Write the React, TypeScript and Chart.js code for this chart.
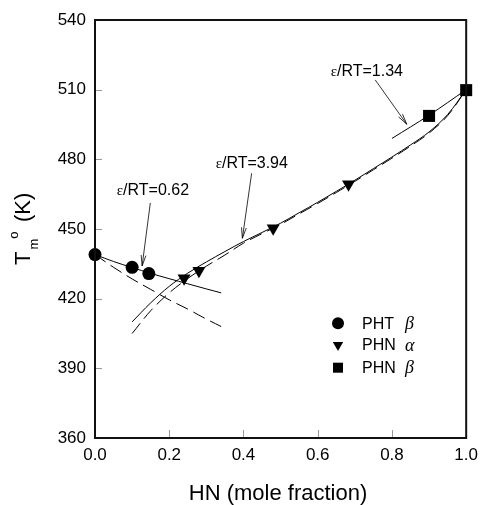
import React, { useEffect, useRef } from "react";
import { Chart, registerables } from "chart.js";
Chart.register(...registerables);

// ---- data ----
const phtBetaX = [0, 0.1, 0.145];
const phtBetaY = [439, 433.5, 430.8];
const phnAlphaX = [0.24, 0.28, 0.48, 0.683];
const phnAlphaY = [428.8, 432, 450.3, 469.3];
const phnBetaX = [0.9, 1.0];
const phnBetaY = [498.7, 509.8];

const fit062X = [0, 0.05, 0.1, 0.15, 0.2, 0.25, 0.3, 0.34];
const fit062SolidY = [439, 436, 433.4, 430.9, 428.6, 426.4, 424.2, 422.5];
const fit062DashY = [439, 433.5, 428.5, 424, 419.5, 415.5, 411.2, 408];

const fit394X = [0.1, 0.15, 0.2, 0.25, 0.3, 0.35, 0.4, 0.45, 0.5, 0.55, 0.6, 0.65, 0.7, 0.75, 0.8, 0.85, 0.9, 0.95, 1.0];
const fit394SolidY = [410, 418.2, 425.3, 431, 435.8, 440.3, 444.6, 448.5, 452.5, 457, 461.5, 466.2, 471, 476, 481, 486.2, 491.8, 499.3, 510];
const fit394DashY = [405, 414.8, 422.5, 428.7, 434, 438.8, 443.9, 448, 452, 456.5, 461, 465.7, 470.5, 475.5, 480.5, 485.7, 491.3, 498.8, 510];

const fit134X = [0.8, 0.9, 1.0];
const fit134Y = [489, 499, 510];

const xTickValues = [0, 0.2, 0.4, 0.6, 0.8, 1.0];
const xTickLabels = ["0.0", "0.2", "0.4", "0.6", "0.8", "1.0"];
const yTickValues = [360, 390, 420, 450, 480, 510, 540];
const yTickLabels = ["360", "390", "420", "450", "480", "510", "540"];

const legendNames = ["PHT", "PHN", "PHN"];
const legendGreek = ["β", "α", "β"];
const legendStyles = ["circle", "triangleDown", "rect"];

// annotations: label, text left x, text baseline y, arrow from (x,y) to tip (x,y)
const annoLabels = ["0.62", "3.94", "1.34"];
const annoTextX = [0.0587, 0.325, 0.635];
const annoTextY = [464.6, 476.3, 515.9];
const annoFromX = [0.149, 0.422, 0.755];
const annoFromY = [461.2, 474, 514.2];
const annoTipX = [0.127, 0.397, 0.84];
const annoTipY = [434.1, 446, 495.1];

const xTitle = "HN (mole fraction)";

const SANS = "'Liberation Sans', Arial, sans-serif";
const SERIF = "'Liberation Serif', 'Times New Roman', serif";

const pts = (xs: number[], ys: number[]) => xs.map((x, i) => ({ x, y: ys[i] }));

function drawMarker(ctx: CanvasRenderingContext2D, style: string, x: number, y: number, s: number) {
  ctx.beginPath();
  if (style === "circle") {
    ctx.arc(x, y, s, 0, Math.PI * 2);
  } else if (style === "triangleDown") {
    const h = s * 1.5;
    const w = s * Math.sqrt(3);
    ctx.moveTo(x - w / 2, y - h / 3);
    ctx.lineTo(x + w / 2, y - h / 3);
    ctx.lineTo(x, y + (2 * h) / 3);
    ctx.closePath();
  } else {
    ctx.rect(x - s, y - s, 2 * s, 2 * s);
  }
  ctx.fillStyle = "#000";
  ctx.fill();
}

const overlay = {
  id: "overlay",
  afterDraw(chart: any) {
    const ctx: CanvasRenderingContext2D = chart.ctx;
    const { left, right, top, bottom } = chart.chartArea;
    const xs = chart.scales.x;
    const ys = chart.scales.y;
    ctx.save();

    // inward tick marks
    ctx.strokeStyle = "#9a9a9a";
    ctx.lineWidth = 1;
    xTickValues.forEach((v) => {
      const px = Math.round(xs.getPixelForValue(v)) + 0.5;
      ctx.beginPath();
      ctx.moveTo(px, bottom);
      ctx.lineTo(px, bottom - 8);
      ctx.stroke();
    });
    yTickValues.forEach((v) => {
      const py = Math.round(ys.getPixelForValue(v)) + 0.5;
      ctx.beginPath();
      ctx.moveTo(left, py);
      ctx.lineTo(left + 7, py);
      ctx.stroke();
    });

    // frame
    ctx.strokeStyle = "#111";
    ctx.lineWidth = 2;
    ctx.strokeRect(left, top, right - left, bottom - top);

    // annotations
    for (let i = 0; i < annoLabels.length; i++) {
      const tx = xs.getPixelForValue(annoTextX[i]);
      const ty = ys.getPixelForValue(annoTextY[i]);
      ctx.fillStyle = "#000";
      ctx.textAlign = "left";
      ctx.textBaseline = "alphabetic";
      ctx.font = `15px ${SERIF}`;
      ctx.fillText("ε", tx, ty);
      const ew = ctx.measureText("ε").width;
      ctx.font = `16px ${SANS}`;
      ctx.fillText("/RT=" + annoLabels[i], tx + ew, ty);

      const fx = xs.getPixelForValue(annoFromX[i]);
      const fy = ys.getPixelForValue(annoFromY[i]);
      const px = xs.getPixelForValue(annoTipX[i]);
      const py = ys.getPixelForValue(annoTipY[i]);
      ctx.strokeStyle = "#000";
      ctx.lineWidth = 0.8;
      ctx.beginPath();
      ctx.moveTo(fx, fy);
      ctx.lineTo(px, py);
      ctx.stroke();
      const ang = Math.atan2(py - fy, px - fx);
      const L = 11;
      const a = 0.22;
      ctx.beginPath();
      ctx.moveTo(px - L * Math.cos(ang - a), py - L * Math.sin(ang - a));
      ctx.lineTo(px, py);
      ctx.lineTo(px - L * Math.cos(ang + a), py - L * Math.sin(ang + a));
      ctx.stroke();
    }

    // legend
    const lx = 338;
    const rows = [323.3, 345, 367.7];
    const sizes = [6, 6, 5];
    for (let i = 0; i < legendNames.length; i++) {
      drawMarker(ctx, legendStyles[i], lx, rows[i], sizes[i]);
      ctx.fillStyle = "#000";
      ctx.textAlign = "left";
      ctx.textBaseline = "middle";
      ctx.font = `16px ${SANS}`;
      ctx.fillText(legendNames[i], 362, rows[i] + 1);
      ctx.font = `italic 18px ${SERIF}`;
      ctx.fillText(legendGreek[i], 405, rows[i] + 1);
    }

    // x title
    ctx.font = `22px ${SANS}`;
    ctx.textAlign = "center";
    ctx.textBaseline = "alphabetic";
    ctx.fillText(xTitle, 278, 500);

    // y title: T_m^o (K)
    ctx.save();
    ctx.translate(30, 265);
    ctx.rotate(-Math.PI / 2);
    ctx.textAlign = "left";
    ctx.textBaseline = "alphabetic";
    ctx.font = `22px ${SANS}`;
    ctx.fillText("T", 0, 0);
    const tw = ctx.measureText("T").width;
    ctx.font = `13px ${SANS}`;
    ctx.fillText("m", tw + 2, 8);
    const mw = ctx.measureText("m").width;
    ctx.fillText("o", tw + 2 + mw, -12);
    ctx.font = `22px ${SANS}`;
    ctx.fillText("(K)", 43, 0);
    ctx.restore();

    ctx.restore();
  },
};

export default function App() {
  const ref = useRef<HTMLCanvasElement>(null);
  useEffect(() => {
    if (!ref.current) return;
    const lineDs = (data: any, dash: number[]) => ({
      type: "line" as const,
      data,
      showLine: true,
      borderColor: "#000",
      borderWidth: 1,
      borderDash: dash,
      pointRadius: 0,
      fill: false,
      tension: 0.35,
      clip: false as any,
    });
    const chart = new Chart(ref.current, {
      type: "scatter",
      data: {
        datasets: [
          lineDs(pts(fit062X, fit062SolidY), []),
          lineDs(pts(fit062X, fit062DashY), [13, 6]),
          lineDs(pts(fit394X, fit394SolidY), []),
          lineDs(pts(fit394X, fit394DashY), [13, 6]),
          lineDs(pts(fit134X, fit134Y), []),
          {
            data: pts(phtBetaX, phtBetaY),
            pointStyle: "circle",
            pointRadius: 6.5,
            backgroundColor: "#000",
            borderColor: "#000",
            borderWidth: 0,
            clip: false as any,
          },
          {
            data: pts(phnAlphaX, phnAlphaY),
            pointStyle: "triangle",
            rotation: 180,
            pointRadius: 7.5,
            backgroundColor: "#000",
            borderColor: "#000",
            borderWidth: 0,
            clip: false as any,
          },
          {
            data: pts(phnBetaX, phnBetaY),
            pointStyle: "rect",
            pointRadius: 8.5,
            backgroundColor: "#000",
            borderColor: "#000",
            borderWidth: 0,
            clip: false as any,
          },
        ],
      } as any,
      options: {
        animation: false,
        responsive: false,
        devicePixelRatio: 1,
        layout: { padding: { top: 20, right: 15, left: 0, bottom: 0 } },
        plugins: { legend: { display: false }, tooltip: { enabled: false } },
        scales: {
          x: {
            type: "linear",
            min: 0,
            max: 1,
            grid: { display: false, drawTicks: false },
            border: { display: false },
            afterBuildTicks: (s: any) => {
              s.ticks = xTickValues.map((v) => ({ value: v }));
            },
            afterFit: (s: any) => {
              s.height = 67;
            },
            ticks: {
              padding: 7,
              color: "#000",
              font: { family: SANS, size: 17 },
              maxRotation: 0,
              autoSkip: false,
              callback: (v: any) => xTickLabels[xTickValues.indexOf(v)] ?? "",
            },
          },
          y: {
            type: "linear",
            min: 360,
            max: 540,
            grid: { display: false, drawTicks: false },
            border: { display: false },
            afterBuildTicks: (s: any) => {
              s.ticks = yTickValues.map((v) => ({ value: v }));
            },
            afterFit: (s: any) => {
              s.width = 95;
            },
            ticks: {
              padding: 9,
              color: "#000",
              font: { family: SANS, size: 17 },
              autoSkip: false,
              callback: (v: any) => yTickLabels[yTickValues.indexOf(v)] ?? "",
            },
          },
        },
      } as any,
      plugins: [overlay],
    });
    return () => chart.destroy();
  }, []);
  return (
    <div style={{ position: "fixed", left: 0, top: 0, width: 485, height: 505, background: "#fff" }}>
      <canvas ref={ref} width={485} height={505} style={{ width: 485, height: 505 }} />
    </div>
  );
}
